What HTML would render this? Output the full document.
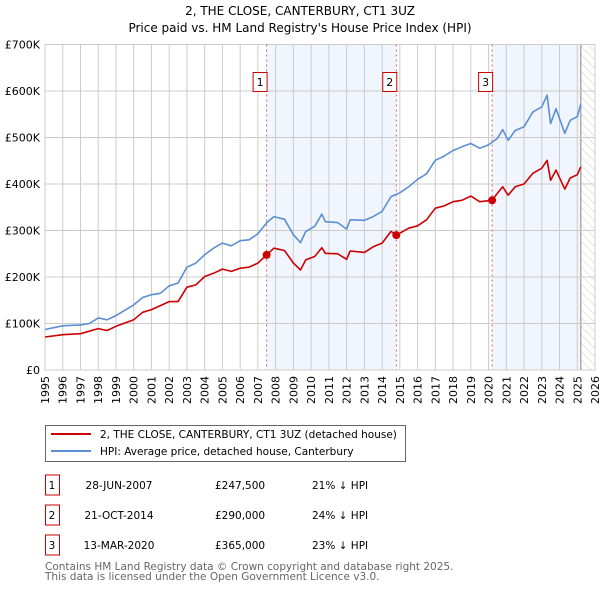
<!DOCTYPE html>
<html><head><meta charset="utf-8"><style>
body{margin:0;background:#fff;font-family:"DejaVu Sans","Liberation Sans",sans-serif;}
svg{display:block}
</style></head><body>
<svg id="chart" width="600" height="590" xmlns="http://www.w3.org/2000/svg" font-family="DejaVu Sans, Liberation Sans, sans-serif">
<defs><pattern id="hatch" patternUnits="userSpaceOnUse" width="6" height="6" patternTransform="rotate(-45)"><line x1="0" y1="0" x2="0" y2="6" stroke="#ccc" stroke-width="1"/></pattern></defs>
<text x="300" y="15" text-anchor="middle" font-size="12">2, THE CLOSE, CANTERBURY, CT1 3UZ</text>
<text x="300" y="32" text-anchor="middle" font-size="12">Price paid vs. HM Land Registry's House Price Index (HPI)</text>
<g id="plot"></g>
<g>
<rect x="45.5" y="425.5" width="360" height="36" fill="#fff" stroke="#666"/>
<line x1="51" y1="434" x2="91" y2="434" stroke="#cc0000" stroke-width="2"/>
<text x="100" y="438" font-size="10.5">2, THE CLOSE, CANTERBURY, CT1 3UZ (detached house)</text>
<line x1="51" y1="451" x2="91" y2="451" stroke="#5b8fd4" stroke-width="2"/>
<text x="100" y="455" font-size="10.5">HPI: Average price, detached house, Canterbury</text>
</g>
<g id="table" font-size="10.5"></g>
<text x="45" y="570" font-size="10.5" fill="#666">Contains HM Land Registry data © Crown copyright and database right 2025.</text>
<text x="45" y="580" font-size="10.5" fill="#666">This data is licensed under the Open Government Licence v3.0.</text>
</svg>
<script>
const hpiYears=[1995,1996,1997,1997.5,1998,1998.5,1999,2000,2000.5,2001,2001.5,2002,2002.5,2003,2003.5,2004,2004.5,2005,2005.5,2006,2006.5,2007,2007.5,2007.9,2008.5,2009,2009.4,2009.7,2010.2,2010.6,2010.8,2011.5,2012,2012.2,2013,2013.5,2014,2014.5,2015,2015.5,2016,2016.5,2017,2017.5,2018,2018.5,2019,2019.5,2020,2020.5,2020.8,2021.1,2021.5,2022,2022.5,2023,2023.3,2023.5,2023.8,2024.3,2024.6,2025,2025.2];
const hpiValues=[87,95,97,100,112,108,117,140,156,162,165,181,187,221,230,248,262,273,267,278,280,293,317,330,324,291,274,298,309,335,319,317,303,323,322,330,341,373,381,394,410,422,451,460,472,480,487,477,484,498,517,494,515,523,555,566,591,530,562,509,537,545,572];
const priceYears=[1995,1996,1997,1998,1998.5,1999,2000,2000.5,2001,2002,2002.5,2003,2003.5,2004,2004.5,2005,2005.5,2006,2006.5,2007,2007.49,2007.9,2008.5,2009,2009.4,2009.7,2010.2,2010.6,2010.8,2011.5,2012,2012.2,2013,2013.5,2014,2014.5,2014.8,2015.5,2016,2016.5,2017,2017.5,2018,2018.5,2019,2019.5,2020.2,2020.5,2020.8,2021.1,2021.5,2022,2022.5,2023,2023.3,2023.5,2023.8,2024.3,2024.6,2025,2025.2];
const priceValues=[71,76,78,89,85,94,108,124,130,147,147,178,183,201,208,217,212,219,221,230,247.5,262,257,230,215,237,244,263,251,250,238,256,253,265,273,298,290,305,310,323,348,353,362,365,374,362,365,380,394,376,394,400,423,434,451,408,430,389,413,420,437];
const saleLabels=["1","2","3"];
const saleYears=[2007.49,2014.8,2020.2];
const saleValues=[247.5,290,365];
const saleDates=["28-JUN-2007","21-OCT-2014","13-MAR-2020"];
const salePrices=["£247,500","£290,000","£365,000"];
const saleDiffs=["21% ↓ HPI","24% ↓ HPI","23% ↓ HPI"];
const yTicks=[0,100,200,300,400,500,600,700];
const yTickLabels=["£0","£100K","£200K","£300K","£400K","£500K","£600K","£700K"];
const xTicks=[];for(let y=1995;y<=2026;y++)xTicks.push(y);

const NS="http://www.w3.org/2000/svg";
const X0=45,X1=595,Y0=370,Y1=44.5;
const sx=y=>X0+(y-1995)*(X1-X0)/31;
const sy=v=>Y0-v*(Y0-Y1)/700;
const plot=document.getElementById('plot');
function mk(tag,attrs,parent){const e=document.createElementNS(NS,tag);for(const k in attrs)e.setAttribute(k,attrs[k]);(parent||plot).appendChild(e);return e;}

let bg=mk('rect',{x:X0,y:Y1,width:X1-X0,height:Y0-Y1,fill:'#fff'});


let s1=mk('rect',{x:sx(saleYears[0]),y:Y1,width:sx(saleYears[1])-sx(saleYears[0]),height:Y0-Y1,fill:'#eef3fc',opacity:0.8});


let s3=mk('rect',{x:sx(saleYears[2]),y:Y1,width:sx(2025.2)-sx(saleYears[2]),height:Y0-Y1,fill:'#eef3fc',opacity:0.8});


let h=mk('rect',{x:sx(2025.2),y:Y1,width:X1-sx(2025.2),height:Y0-Y1,fill:'url(#hatch)'});


mk('line',{x1:sx(2025.2),y1:Y1,x2:sx(2025.2),y2:Y0,stroke:'#999','stroke-width':1.2});

xTicks.forEach(y=>{
  const g=mk('line',{x1:sx(y),y1:Y1,x2:sx(y),y2:Y0,stroke:'#ccc','stroke-width':1});
  
  
  const t=mk('text',{x:0,y:0,'font-size':11,'text-anchor':'end',transform:`translate(${sx(y)+4},${Y0+6}) rotate(-90)`});
  t.textContent=y;
  
  
});
yTicks.forEach((v,i)=>{
  const g=mk('line',{x1:X0,y1:sy(v),x2:X1,y2:sy(v),stroke:'#ccc','stroke-width':1});
  
  
  const t=mk('text',{x:X0-5,y:sy(v)+4,'font-size':11,'text-anchor':'end'});
  t.textContent=yTickLabels[i];
  
  
});
let fr=mk('rect',{x:X0,y:Y1,width:X1-X0,height:Y0-Y1,fill:'none',stroke:'#ccc'});

saleYears.forEach((y,i)=>{
  const l=mk('line',{x1:sx(y),y1:Y1,x2:sx(y),y2:Y0,stroke:'#e06060','stroke-width':1,'stroke-dasharray':'2,3'});
  
  
  const b=mk('rect',{x:sx(y)-13.5,y:72.5,width:14,height:19,fill:'#fff',stroke:'#cc0000'});
  
  
  const t=mk('text',{x:sx(y)-6.5,y:86,'font-size':11,'text-anchor':'middle'});
  t.textContent=saleLabels[i];
  
  
});

function line(xs,vs,color,name){
  const p=mk('polyline',{points:xs.map((y,i)=>sx(y).toFixed(1)+','+sy(vs[i]).toFixed(1)).join(' '),fill:'none',stroke:color,'stroke-width':1.6,'stroke-linejoin':'round'});
  
  
}
line(hpiYears,hpiValues,'#5b8fd4','hpi-line');
line(priceYears,priceValues,'#cc0000','price-line');
saleYears.forEach((y,i)=>{
  const c=mk('circle',{cx:sx(y),cy:sy(saleValues[i]),r:4,fill:'#cc0000'});
  
  
});

const tb=document.getElementById('table');
saleLabels.forEach((l,i)=>{
  const y=485+i*30;
  const b=mk('rect',{x:45.5,y:y-10,width:14,height:20,fill:'none',stroke:'#cc0000'},tb);
  
  
  const vals=[[l,52,'middle'],[saleDates[i],119,'middle'],[salePrices[i],215,'start'],[saleDiffs[i],312,'start']];
  vals.forEach(([s,x,a])=>{
    const t=mk('text',{x:x,y:y+4,'text-anchor':a},tb);
    t.textContent=s;
    
    
  });
});
</script>
</body></html>
